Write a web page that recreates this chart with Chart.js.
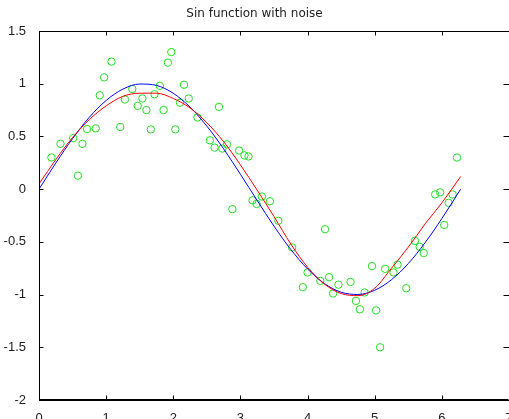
<!DOCTYPE html>
<html>
<head>
<meta charset="utf-8">
<script src="https://cdn.jsdelivr.net/npm/chart.js@4"></script>
<style>
  html, body { margin: 0; padding: 0; background: #fff; overflow: hidden; }
  #wrap { width: 509px; height: 419px; }
</style>
</head>
<body>
<div id="wrap"><canvas id="myChart"></canvas></div>
<script>
// noisy samples (green circles)
const noiseX = [0.185, 0.32, 0.51, 0.58, 0.647, 0.716, 0.845, 0.905, 0.97, 1.08,
  1.21, 1.28, 1.39, 1.47, 1.54, 1.60, 1.665, 1.72, 1.80, 1.855,
  1.92, 1.97, 2.03, 2.10, 2.16, 2.23, 2.36, 2.545, 2.615, 2.68,
  2.73, 2.80, 2.88, 2.98, 3.06, 3.12, 3.18, 3.24, 3.32, 3.44,
  3.565, 3.77, 3.93, 4.00, 4.19, 4.26, 4.32, 4.38, 4.46, 4.64,
  4.72, 4.78, 4.85, 4.96, 5.02, 5.08, 5.155, 5.28, 5.34, 5.47,
  5.60, 5.67, 5.73, 5.90, 5.975, 6.035, 6.10, 6.16, 6.225];
const noiseY = [0.30, 0.43, 0.485, 0.128, 0.43, 0.57, 0.576, 0.89, 1.06, 1.21,
  0.59, 0.85, 0.95, 0.79, 0.86, 0.75, 0.567, 0.90, 0.98, 0.75,
  1.20, 1.30, 0.567, 0.82, 0.99, 0.86, 0.68, 0.463, 0.394, 0.78,
  0.385, 0.425, -0.19, 0.366, 0.32, 0.31, -0.106, -0.14, -0.07, -0.115,
  -0.30, -0.553, -0.93, -0.79, -0.87, -0.38, -0.835, -0.99, -0.906, -0.88,
  -1.06, -1.14, -0.98, -0.73, -1.15, -1.50, -0.756, -0.79, -0.716, -0.94,
  -0.49, -0.547, -0.606, -0.05, -0.03, -0.34, -0.13, -0.05, 0.30];

// curves (blue = sin, red = fit)
const curveX = [0, 0.25, 0.5, 0.75, 1.0, 1.25, 1.5, 1.75, 2.0, 2.25,
  2.5, 2.75, 3.0, 3.25, 3.5, 3.75, 4.0, 4.25, 4.5, 4.75,
  5.0, 5.25, 5.5, 5.75, 6.0, 6.28];
const sinY = [0, 0.247, 0.479, 0.682, 0.841, 0.949, 0.997, 0.984, 0.909, 0.778,
  0.598, 0.382, 0.141, -0.108, -0.351, -0.572, -0.757, -0.895, -0.978, -0.999,
  -0.959, -0.859, -0.706, -0.508, -0.279, 0.0];
const fitY = [0.05, 0.28, 0.49, 0.66, 0.79, 0.88, 0.91, 0.91, 0.86, 0.77,
  0.63, 0.45, 0.23, -0.01, -0.26, -0.52, -0.74, -0.90, -0.99, -1.01,
  -0.94, -0.75, -0.55, -0.33, -0.13, 0.12];

// axis ticks
const xTicks = [0, 1, 2, 3, 4, 5, 6, 7];
const yTicks = [-2, -1.5, -1, -0.5, 0, 0.5, 1, 1.5];

const toPts = (xs, ys) => xs.map((x, i) => ({ x: x, y: ys[i] }));

// one crisp 1px segment
function seg(c, x1, y1, x2, y2) {
  c.beginPath();
  c.moveTo(x1, y1);
  c.lineTo(x2, y2);
  c.stroke();
}

// box + inward tick marks, matlab style
const frame = {
  id: 'matlabBox',
  afterDraw(chart) {
    const c = chart.ctx;
    const sx = chart.scales.x, sy = chart.scales.y;
    const L = Math.round(sx.getPixelForValue(0)) + 0.5;
    const R = Math.round(sx.getPixelForValue(7)) - 0.5;
    const B = Math.round(sy.getPixelForValue(-2)) - 0.5;
    const T = Math.round(sy.getPixelForValue(1.5)) + 0.5;
    c.save();
    c.strokeStyle = '#000';
    c.lineWidth = 1;
    seg(c, L, T, R, T);
    seg(c, L, B, R, B);
    seg(c, L, T, L, B);
    xTicks.forEach(v => {
      const px = Math.round(sx.getPixelForValue(v)) + 0.5;
      seg(c, px, B, px, B - 4);
      seg(c, px, T, px, T + 4);
    });
    yTicks.forEach(v => {
      const py = Math.round(sy.getPixelForValue(v)) + 0.5;
      seg(c, L, py, L + 4, py);
      seg(c, R + 1, py, R - 5, py);
    });
    c.restore();
  }
};

const el = document.getElementById('myChart');

new Chart(el, {
  type: 'scatter',
  data: {
    datasets: [
      {
        label: 'fit',
        data: toPts(curveX, fitY),
        showLine: true,
        borderColor: '#ff0000',
        borderWidth: 1,
        pointRadius: 0,
        cubicInterpolationMode: 'monotone',
        order: 0
      },
      {
        label: 'sin',
        data: toPts(curveX, sinY),
        showLine: true,
        borderColor: '#0000ff',
        borderWidth: 1,
        pointRadius: 0,
        cubicInterpolationMode: 'monotone',
        order: 1
      },
      {
        label: 'noise',
        data: toPts(noiseX, noiseY),
        showLine: false,
        pointStyle: 'circle',
        pointRadius: 3.7,
        borderWidth: 1,
        borderColor: '#22dd22',
        backgroundColor: 'rgba(0,0,0,0)',
        order: 2
      }
    ]
  },
  plugins: [frame],
  options: {
    responsive: true,
    maintainAspectRatio: false,
    animation: false,
    events: [],
    layout: { autoPadding: false, padding: 0 },
    plugins: {
      legend: { display: false },
      tooltip: { enabled: false },
      title: {
        display: true,
        text: 'Sin function with noise',
        color: '#222',
        font: { family: 'DejaVu Sans', size: 12, weight: 'normal', lineHeight: 1 },
        padding: { top: 8, bottom: 11 }
      }
    },
    scales: {
      x: {
        type: 'linear',
        min: 0,
        max: 7,
        grid: { display: false },
        border: { display: true, color: '#000', width: 1 },
        afterBuildTicks: s => { s.ticks = xTicks.map(v => ({ value: v })); },
        ticks: {
          color: '#222',
          padding: 3,
          autoSkip: false,
          maxRotation: 0,
          callback: v => String(v),
          font: { family: 'Liberation Sans', size: 13 }
        },
        afterFit: s => { s.height = 19; s.paddingLeft = 0; s.paddingRight = 0; }
      },
      y: {
        type: 'linear',
        min: -2,
        max: 1.5,
        grid: { display: false },
        border: { display: true, color: '#000', width: 1 },
        afterBuildTicks: s => { s.ticks = yTicks.map(v => ({ value: v })); },
        ticks: {
          color: '#222',
          padding: 5,
          autoSkip: false,
          callback: v => String(v),
          font: { family: 'Liberation Sans', size: 13 }
        },
        afterFit: s => { s.width = 39; s.paddingTop = 0; s.paddingBottom = 0; }
      }
    }
  }
});
</script>
</body>
</html>
